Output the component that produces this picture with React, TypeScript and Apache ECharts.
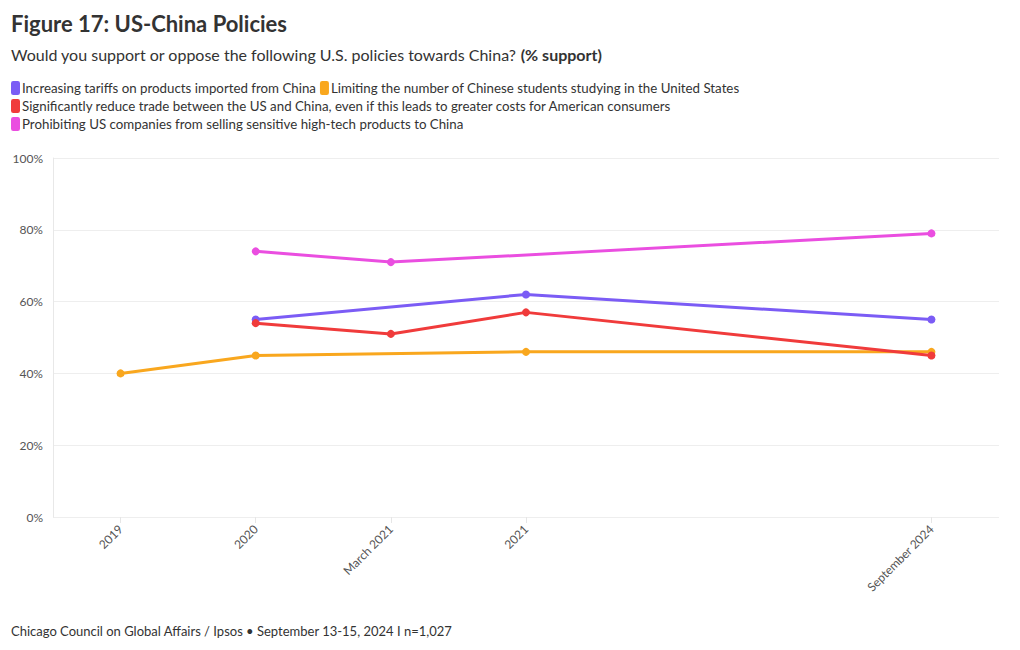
import React, { useEffect, useRef } from "react";
import * as echarts from "echarts";

const categories = ["2019", "2020", "March 2021", "2021", "", " ", "September 2024"];
const tariffs = [null, 55, null, 62, null, null, 55];
const students = [40, 45, null, 46, null, null, 46];
const reduceTrade = [null, 54, 51, 57, null, null, 45];
const hightech = [null, 74, 71, null, null, null, 79];
const yTicks = [0, 20, 40, 60, 80, 100];

const seriesNames = [
  "Increasing tariffs on products imported from China",
  "Limiting the number of Chinese students studying in the United States",
  "Significantly reduce trade between the US and China, even if this leads to greater costs for American consumers",
  "Prohibiting US companies from selling sensitive high-tech products to China",
];
const colors = ["#7B5CF5", "#F9A71E", "#F03B3B", "#EA4EE0"];
const seriesData = [tariffs, students, reduceTrade, hightech];

const FONT = "Lato, 'Noto Sans', sans-serif";

export default function App() {
  const ref = useRef<HTMLDivElement>(null);
  useEffect(() => {
    if (!ref.current) return;
    const chart = echarts.init(ref.current, undefined, { renderer: "svg" });
    chart.setOption({
      animation: false,
      textStyle: { fontFamily: FONT },
      title: [
        {
          text: "Figure 17: US-China Policies",
          left: 6,
          top: 7,
          textStyle: { fontSize: 22, fontWeight: "bold", color: "#333", fontFamily: FONT },
        },
        {
          text: "Would you support or oppose the following U.S. policies towards China? {b|(% support)}",
          left: 6,
          top: 41,
          textStyle: {
            fontSize: 16,
            fontWeight: "normal",
            color: "#333",
            fontFamily: FONT,
            rich: { b: { fontSize: 16, fontWeight: "bold", color: "#333", fontFamily: FONT } },
          },
        },
        {
          text: "Chicago Council on Global Affairs / Ipsos • September 13-15, 2024 I n=1,027",
          left: 6,
          top: 619,
          textStyle: { fontSize: 13, fontWeight: "normal", color: "#333", fontFamily: FONT },
        },
      ],
      legend: {
        left: 11,
        top: 81,
        width: 770,
        orient: "horizontal",
        itemWidth: 9,
        itemHeight: 14,
        itemGap: 4,
        icon: "roundRect",
        padding: [0, 0, 0, 0],
        textStyle: { fontSize: 13.3, color: "#333", padding: [0, 0, 0, -3], fontFamily: FONT, lineHeight: 14 },
        data: seriesNames.map((n, i) => ({ name: n, itemStyle: { color: colors[i] } })),
      },
      grid: { left: 53, right: 21, top: 158, bottom: 133, containLabel: false },
      xAxis: {
        type: "category",
        data: categories,
        boundaryGap: true,
        axisLine: { show: false },
        axisTick: {
          show: true,
          alignWithLabel: true,
          length: 6,
          lineStyle: { color: "#e6e6e6" },
          interval: (i: number, v: string) => v.trim() !== "",
        },
        axisLabel: {
          rotate: 45,
          interval: 0,
          fontSize: 12,
          color: "#555",
          margin: 10,
          fontFamily: FONT,
        },
        splitLine: { show: false },
      },
      yAxis: {
        type: "value",
        min: 0,
        max: 100,
        interval: 20,
        axisLine: { show: true, lineStyle: { color: "#e8e8e8" } },
        axisTick: { show: false },
        axisLabel: {
          formatter: (v: number) => (yTicks.includes(v) ? v + "%" : ""),
          fontSize: 12,
          color: "#555",
          margin: 10,
          fontFamily: FONT,
        },
        splitLine: { lineStyle: { color: "#eeeeee" } },
      },
      series: seriesNames.map((n, i) => ({
        name: n,
        type: "line",
        data: seriesData[i],
        connectNulls: true,
        symbol: "circle",
        symbolSize: 8,
        showSymbol: true,
        color: colors[i],
        lineStyle: { width: 3, color: colors[i] },
        itemStyle: { color: colors[i] },
      })),
    });
    return () => chart.dispose();
  }, []);
  return <div ref={ref} style={{ position: "absolute", left: 0, top: 0, width: 1020, height: 650 }} />;
}
